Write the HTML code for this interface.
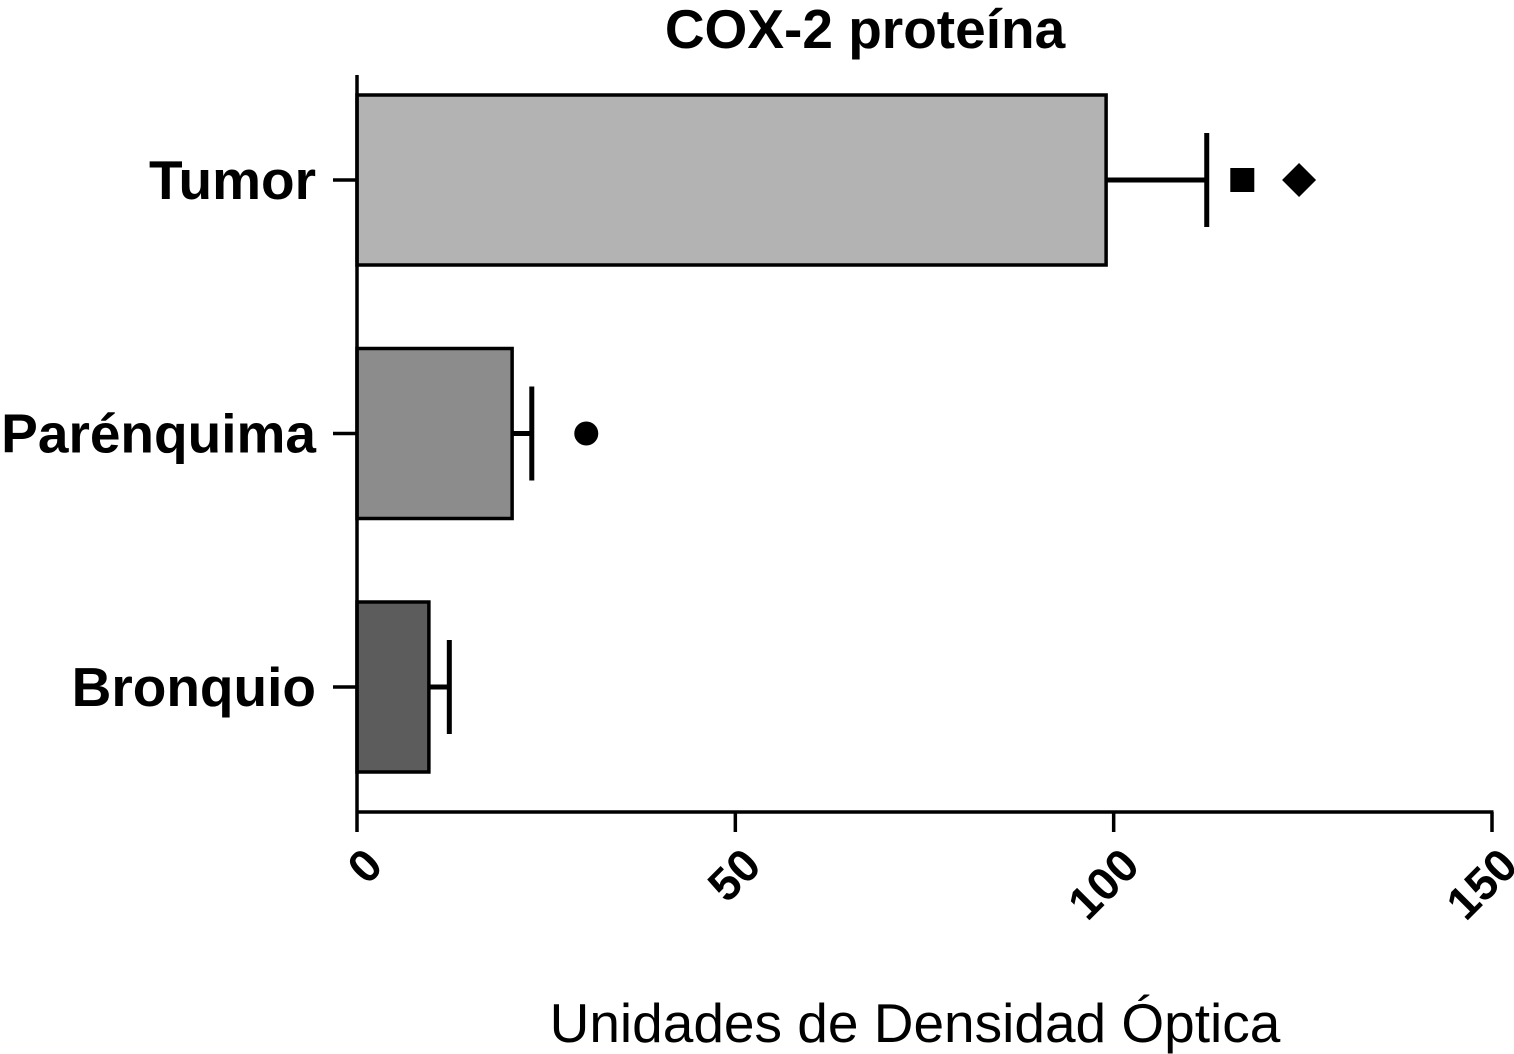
<!DOCTYPE html>
<html><head><meta charset="utf-8"><style>
body{margin:0;background:#fff}
svg{display:block;font-family:"Liberation Sans",Arial,sans-serif}
</style></head><body>
<svg id="chart" width="1514" height="1054" viewBox="0 0 1514 1054">
<text x="865" y="48" text-anchor="middle" font-size="55" font-weight="bold">COX-2 proteína</text>
<text x="915" y="1042" text-anchor="middle" font-size="55">Unidades de Densidad Óptica</text>
<g id="plot"></g>
</svg>
<script>
const categories = ["Tumor", "Parénquima", "Bronquio"];
const values = [99, 20.5, 9.5];
const errors = [13.3, 2.6, 2.7];
const fills = ["#b3b3b3", "#8c8c8c", "#5c5c5c"];
const ticks = [0, 50, 100, 150];
const markers = [{cat:0, value:117, shape:"square"}, {cat:0, value:124.5, shape:"diamond"}, {cat:1, value:30.3, shape:"circle"}];

const NS = "http://www.w3.org/2000/svg";
const g = document.getElementById("plot");
const x0 = 357, x1 = 1492, yTop = 75, yBot = 812;
const xs = v => x0 + (v - 0) / 150 * (x1 - x0);
const yc = i => 180 + i * 253.5;
function mk(tag, attrs, parent) {
  const e = document.createElementNS(NS, tag);
  for (const k in attrs) e.setAttribute(k, attrs[k]);
  (parent || g).appendChild(e);
  return e;
}
categories.forEach((c, i) => {
  const y = yc(i);
  const r = mk("rect", {x: x0, y: y - 85, width: xs(values[i]) - x0, height: 170, fill: fills[i], stroke: "#000", "stroke-width": 3.5});
  
  
  const e1 = mk("line", {x1: xs(values[i]), x2: xs(values[i] + errors[i]), y1: y, y2: y, stroke: "#000", "stroke-width": 5});
  
  
  const e2 = mk("line", {x1: xs(values[i] + errors[i]), x2: xs(values[i] + errors[i]), y1: y - 47, y2: y + 47, stroke: "#000", "stroke-width": 5});
  
  
  const t = mk("line", {x1: 333, x2: x0, y1: y, y2: y, stroke: "#000", "stroke-width": 3.5});
  
  
  const l = mk("text", {x: 316, y: y + 19, "text-anchor": "end", "font-size": 55, "font-weight": "bold"});
  l.textContent = c;
  
  
});
markers.forEach(m => {
  const x = xs(m.value), y = yc(m.cat);
  let e;
  if (m.shape === "square") e = mk("rect", {x: x - 12, y: y - 12, width: 24, height: 24, fill: "#000"});
  else if (m.shape === "diamond") e = mk("polygon", {points: `${x},${y-17} ${x+17},${y} ${x},${y+17} ${x-17},${y}`, fill: "#000"});
  else e = mk("circle", {cx: x, cy: y, r: 12, fill: "#000"});
  
  
});
const ya = mk("line", {x1: x0, x2: x0, y1: yTop, y2: yBot, stroke: "#000", "stroke-width": 3.5});


const xa = mk("line", {x1: x0 - 1.5, x2: x1 + 1.5, y1: yBot, y2: yBot, stroke: "#000", "stroke-width": 3.5});


ticks.forEach(v => {
  const x = xs(v);
  const t = mk("line", {x1: x, x2: x, y1: yBot, y2: 832, stroke: "#000", "stroke-width": 3.5});
  
  
  const ax = x + 28, ay = 868;
  const l = mk("text", {x: ax, y: ay, "text-anchor": "end", "font-size": 46, "font-weight": "bold", transform: `rotate(-45 ${ax} ${ay})`});
  l.textContent = v;
  
  
});
</script>
</body></html>
